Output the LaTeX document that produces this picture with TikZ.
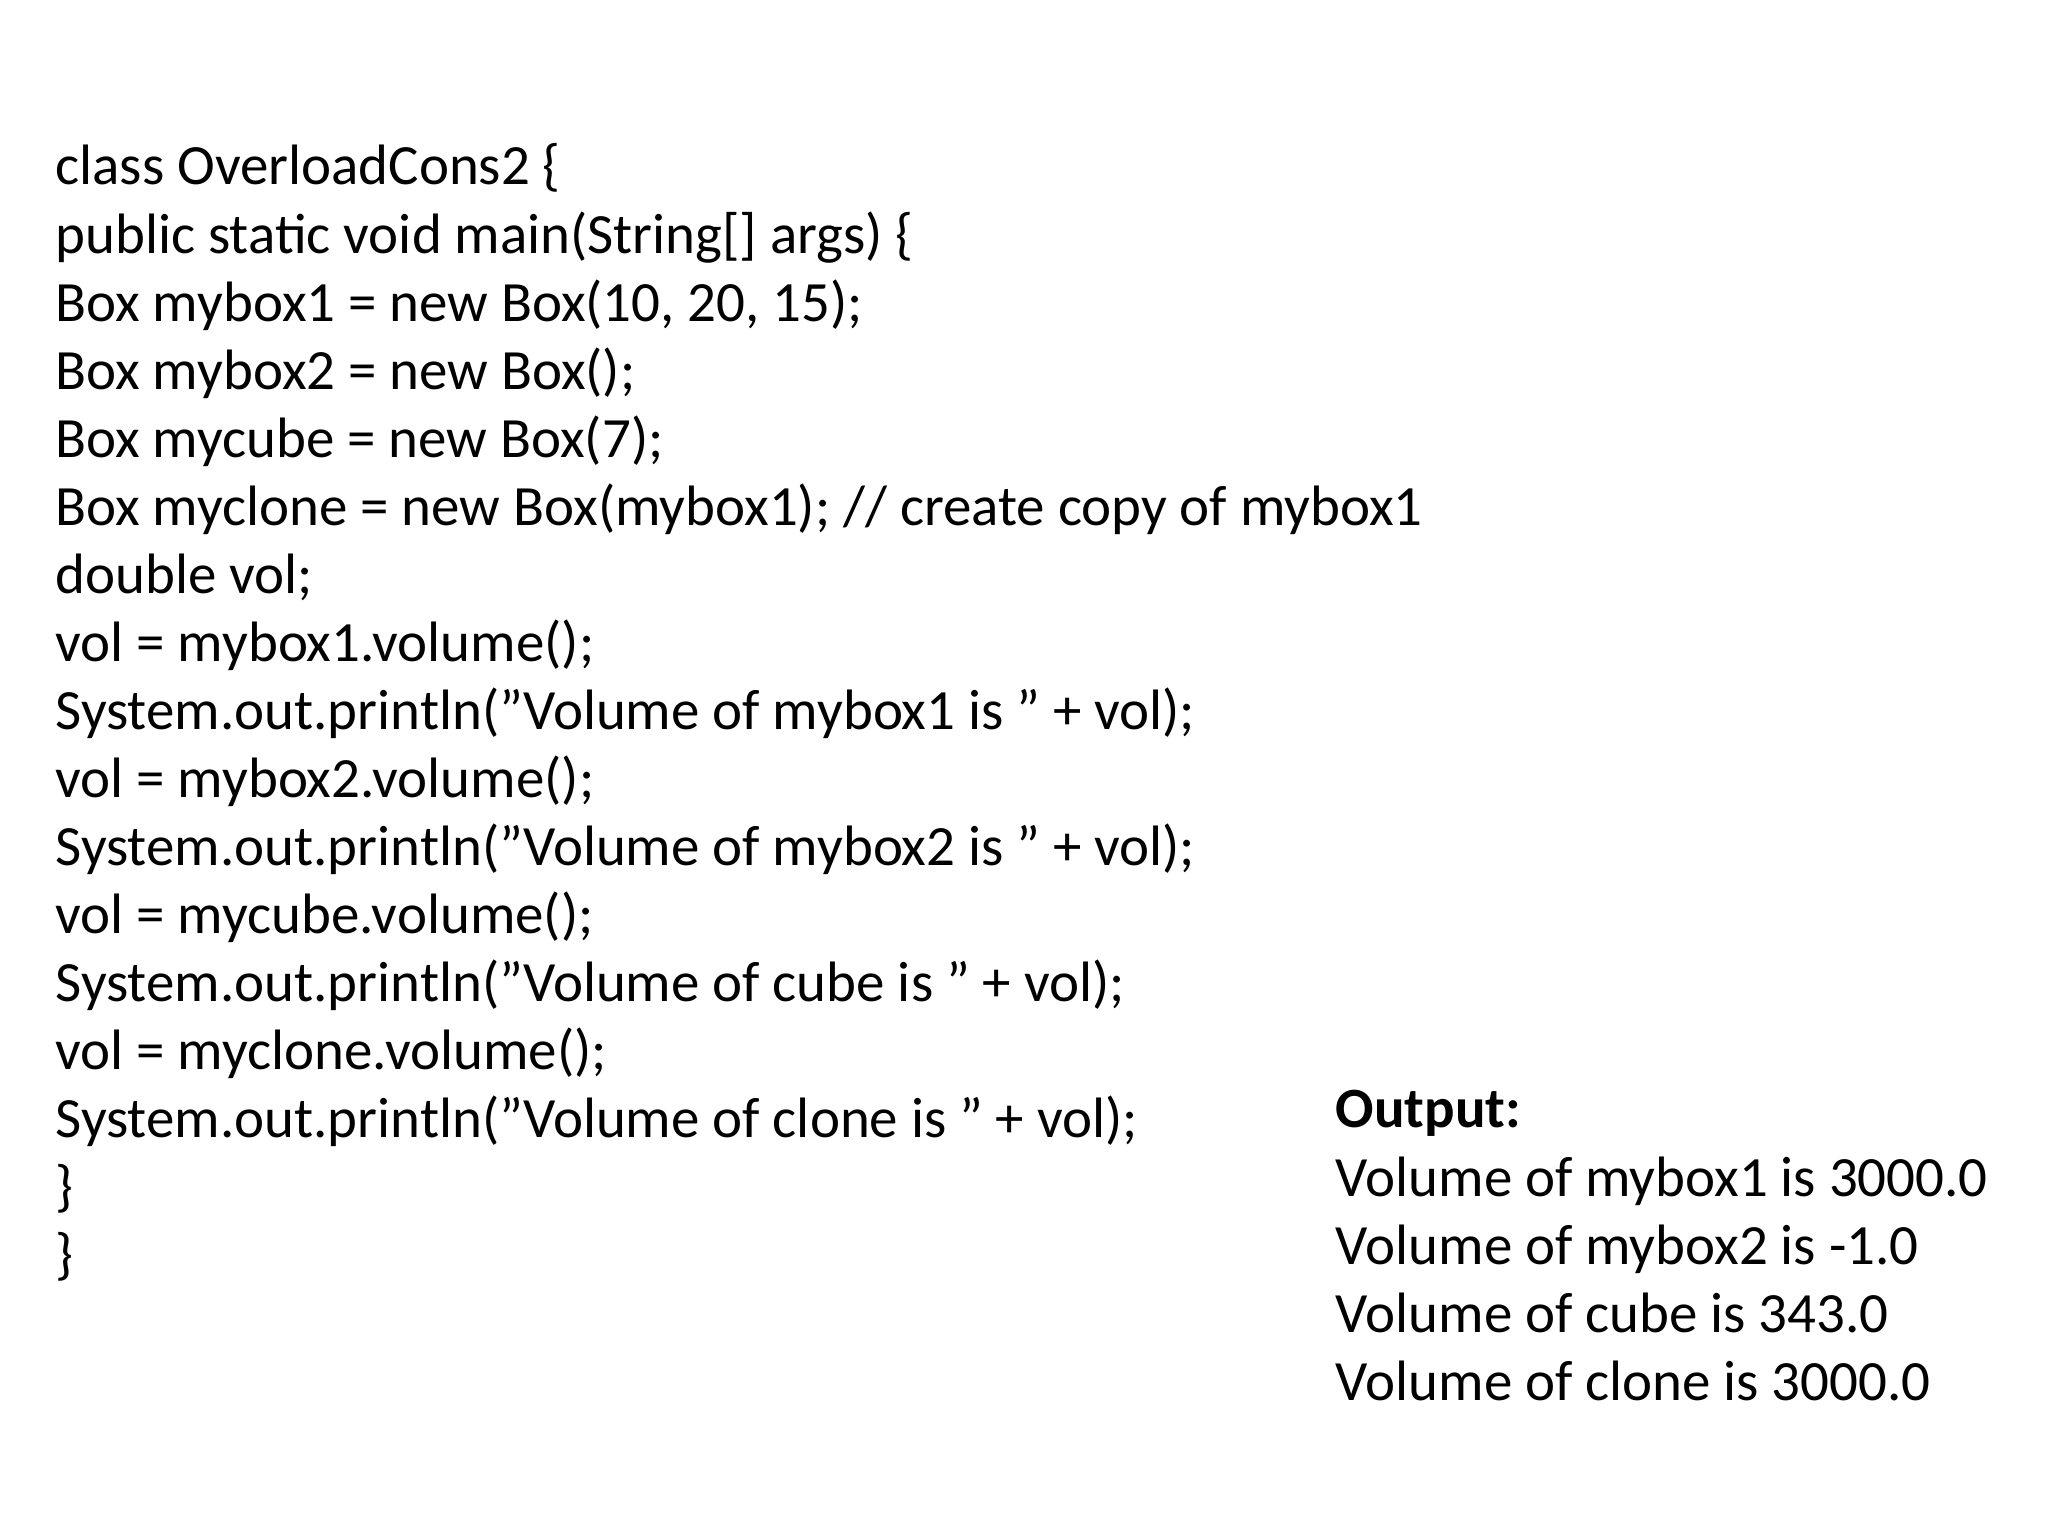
\documentclass[tikz,border=0pt]{standalone}
\usepackage{fontspec}
\setmainfont{Carlito}
\newcommand{\qq}{\symbol{34}}
\begin{document}
\begin{tikzpicture}[x=1cm,y=1cm,
  code/.style={anchor=base west,inner sep=0pt,font=\fontsize{16.2}{18}\selectfont}]
\useasboundingbox (0,0) rectangle (20.48,15.36);
\def\ls{0.6805}
\foreach \t [count=\i from 0] in {
 {class OverloadCons2 \{},
 {public static void main(String[] args) \{},
 {Box mybox1 = new Box(10, 20, 15);},
 {Box mybox2 = new Box();},
 {Box mycube = new Box(7);},
 {Box myclone = new Box(mybox1); // create copy of mybox1},
 {double vol;},
 {vol = mybox1.volume();},
 {System.out.println(\qq Volume of mybox1 is \qq\ + vol);},
 {vol = mybox2.volume();},
 {System.out.println(\qq Volume of mybox2 is \qq\ + vol);},
 {vol = mycube.volume();},
 {System.out.println(\qq Volume of cube is \qq\ + vol);},
 {vol = myclone.volume();},
 {System.out.println(\qq Volume of clone is \qq\ + vol);},
 {\}},
 {\}}}
 \node[code] (c\i) at (0.549,13.51-\i*\ls) {\t};
\node[code,font=\fontsize{16.2}{18}\selectfont\bfseries] (out) at (13.35,4.08) {Output:};
\foreach \t [count=\i] in {
 {Volume of mybox1 is 3000.0},
 {Volume of mybox2 is -1.0},
 {Volume of cube is 343.0},
 {Volume of clone is 3000.0}}
 \node[code] (o\i) at (13.35,4.08-\i*\ls) {\t};
\end{tikzpicture}
\end{document}
